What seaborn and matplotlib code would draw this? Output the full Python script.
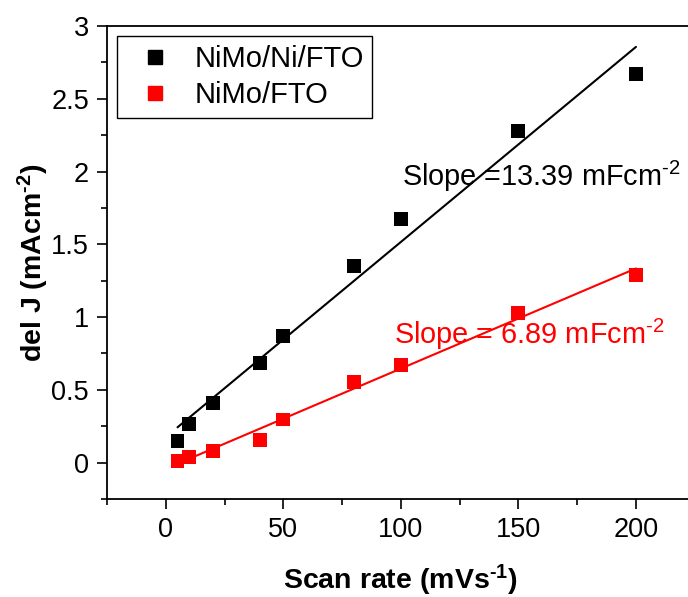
import numpy as np
import pandas as pd
import matplotlib
matplotlib.use("Agg")
import matplotlib.pyplot as plt
from matplotlib.lines import Line2D
from matplotlib.ticker import MultipleLocator
import seaborn as sns

scan_rate = [5, 10, 20, 40, 50, 80, 100, 150, 200]
nimo_ni_fto = [0.151, 0.268, 0.408, 0.686, 0.870, 1.350, 1.675, 2.280, 2.673]
nimo_fto = [0.012, 0.037, 0.080, 0.156, 0.296, 0.556, 0.672, 1.030, 1.290]
series_names = ["NiMo/Ni/FTO", "NiMo/FTO"]
series_colors = ["#000000", "#ff0000"]
slope_labels = ["Slope =13.39 mFcm$^{\\mathrm{\u20102}}$", "Slope = 6.89 mFcm$^{\\mathrm{\u20102}}$"]
x_ticks = [0, 50, 100, 150, 200]
y_ticks = [0, 0.5, 1, 1.5, 2, 2.5, 3]
y_tick_labels = ["0", "0.5", "1", "1.5", "2", "2.5", "3"]

sns.set_style("ticks")
plt.rcParams["font.family"] = ["Liberation Sans", "DejaVu Sans"]
plt.rcParams["mathtext.fontset"] = "custom"
plt.rcParams["mathtext.rm"] = "Liberation Sans"
plt.rcParams["mathtext.it"] = "Liberation Sans:italic"
plt.rcParams["mathtext.bf"] = "Liberation Sans:bold"
plt.rcParams["axes.unicode_minus"] = False
for k in ["text.color", "axes.labelcolor", "xtick.color", "ytick.color", "axes.edgecolor"]:
    plt.rcParams[k] = "black"

df = pd.DataFrame({
    "x": scan_rate * 2,
    "y": nimo_ni_fto + nimo_fto,
    "s": [series_names[0]] * len(scan_rate) + [series_names[1]] * len(scan_rate),
})

fig = plt.figure(figsize=(6.88, 5.97), dpi=100)
ax = fig.add_axes([107/688, 98/597, (694.75-107)/688, (499-26)/597])

for name, col in zip(series_names, series_colors):
    sub = df[df.s == name]
    sns.regplot(data=sub, x="x", y="y", ax=ax, ci=None, scatter=False,
                color=col, line_kws=dict(lw=1.5, color=col))
sns.scatterplot(data=df, x="x", y="y", hue="s", palette=series_colors,
                marker="s", s=100, edgecolor="none", ax=ax, legend=False, zorder=3)

ax.set_xlim(-25, 225)
ax.set_ylim(-0.25, 3)
ax.xaxis.set_minor_locator(MultipleLocator(25))
ax.yaxis.set_minor_locator(MultipleLocator(0.25))
ax.set_xticks(x_ticks)
ax.set_xticklabels([str(v) for v in x_ticks])
ax.set_yticks(y_ticks)
ax.set_yticklabels(y_tick_labels)
ax.tick_params(axis="both", which="major", direction="out", length=7, width=1.2,
               labelsize=19.5, color="black", labelcolor="black", pad=6)
ax.tick_params(axis="both", which="minor", direction="out", length=4, width=1.2, color="black")
for sp in ax.spines.values():
    sp.set_linewidth(1.3)
    sp.set_color("black")

ax.set_xlabel("Scan rate (mVs$^{\\mathbf{\u20101}}$)", fontsize=20.5, fontweight="bold",
              labelpad=14, color="black")
ax.set_ylabel("del J (mAcm$^{\\mathbf{\u20102}}$)", fontsize=20.5, fontweight="bold",
              labelpad=0, color="black")

ax.text(100.3, 1.967, slope_labels[0], color=series_colors[0], fontsize=20.8, va="center", ha="left")
ax.text(97, 0.878, slope_labels[1], color=series_colors[1], fontsize=20.8, va="center", ha="left")

handles = [Line2D([], [], marker="s", ls="none", color=c, markersize=10) for c in series_colors]
leg = ax.legend(handles, series_names, loc="upper left", bbox_to_anchor=(0.017, 0.978),
                fontsize=21, frameon=True, fancybox=False, framealpha=1,
                edgecolor="black", borderpad=0.3, handletextpad=0.35, labelspacing=0.28,
                handlelength=2.0, borderaxespad=0)
leg.get_frame().set_linewidth(1.0)
for t in leg.get_texts():
    t.set_color("black")

fig.savefig("out.png", dpi=100)
